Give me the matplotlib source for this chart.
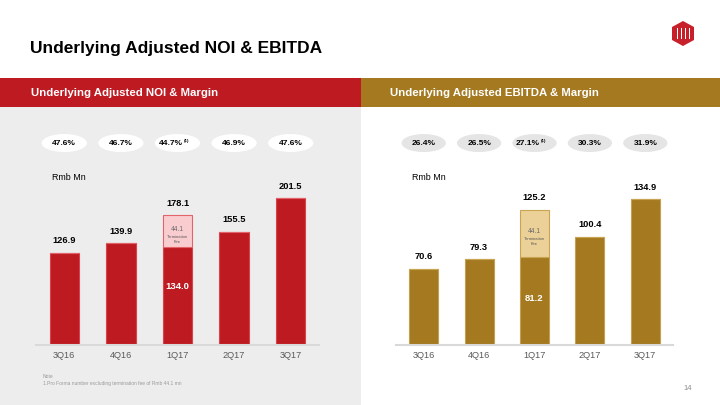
import matplotlib.pyplot as plt
from matplotlib.patches import Rectangle, Ellipse, Polygon

plt.rcParams['font.family'] = ['Liberation Sans', 'DejaVu Sans']

quarters = ["3Q16", "4Q16", "1Q17", "2Q17", "3Q17"]

noi_base = [126.9, 139.9, 134.0, 155.5, 201.5]
noi_fee = [0, 0, 44.1, 0, 0]
noi_totals = ["126.9", "139.9", "178.1", "155.5", "201.5"]
noi_margin = ["47.6%", "46.7%", "44.7%", "46.9%", "47.6%"]

ebitda_base = [70.6, 79.3, 81.2, 100.4, 134.9]
ebitda_fee = [0, 0, 44.1, 0, 0]
ebitda_totals = ["70.6", "79.3", "125.2", "100.4", "134.9"]
ebitda_margin = ["26.4%", "26.5%", "27.1%", "30.3%", "31.9%"]

footnote_idx = 2  # the quarter with the termination fee

RED = "#BE1A22"
GOLD = "#A47920"

W, H = 720, 405
fig = plt.figure(figsize=(7.2, 4.05), dpi=100)
fig.patch.set_facecolor("white")

# background canvas in pixel units
bg = fig.add_axes([0, 0, 1, 1])
bg.set_xlim(0, W)
bg.set_ylim(H, 0)
bg.axis("off")
bg.add_patch(Rectangle((0, 106.5), 361, 300, color="#EDEDED", lw=0))
bg.add_patch(Rectangle((0, 77.5), 361, 29, color=RED, lw=0))
bg.add_patch(Rectangle((361, 77.5), 359, 29, color=GOLD, lw=0))

bg.text(30, 48, "Underlying Adjusted NOI & EBITDA", fontsize=12.5, fontweight="bold",
        color="black", va="center", ha="left")
bg.text(31, 93, "Underlying Adjusted NOI & Margin", fontsize=8.2, fontweight="bold",
        color="white", va="center", ha="left")
bg.text(390, 93, "Underlying Adjusted EBITDA & Margin", fontsize=8.2, fontweight="bold",
        color="white", va="center", ha="left")

# logo (rough)
bg.add_patch(Polygon([(683, 21), (694, 27), (694, 40), (683, 46), (672, 40), (672, 27)],
                     closed=True, color="#C8202A", lw=0))
for xs in (676.5, 680.5, 684.5, 688.5):
    bg.add_patch(Rectangle((xs, 28), 1.3, 11, color="white", lw=0))

bg.text(43, 376, "Note", fontsize=3.6, color="#9A9A9A", va="center")
bg.text(43, 383, "1.Pro Forma number excluding termination fee of Rmb 44.1 mn",
        fontsize=3.5, color="#9A9A9A", va="center")
bg.text(687.5, 389, "14", fontsize=5.5, color="#8C8C8C", va="center", ha="center")


def px_axes(x0, x1, ytop, ybot):
    return fig.add_axes([x0 / W, (H - ybot) / H, (x1 - x0) / W, (ybot - ytop) / H])


def draw_panel(ax, base, fee, totals, margins, dark, light, edge, light_edge,
               ell_color, ymax, inner_gap):
    x = list(range(len(quarters)))
    ax.set_xlim(-0.5, 4.5)
    ax.set_ylim(0, ymax)
    ax.patch.set_alpha(0)
    for s in ("top", "right", "left"):
        ax.spines[s].set_visible(False)
    ax.spines["bottom"].set_color("#D9D9D9")
    ax.spines["bottom"].set_linewidth(1.5)
    ax.set_yticks([])
    ax.set_xticks(x)
    ax.set_xticklabels(quarters, fontsize=6.6, color="#595959")
    ax.tick_params(axis="x", length=0, pad=4)

    ax.bar(x, base, width=0.52, color=dark, edgecolor=edge, linewidth=0.8)
    ax.bar(x, fee, bottom=base, width=0.52, color=light, edgecolor=light_edge,
           linewidth=0.8)

    for i in x:
        top = base[i] + fee[i]
        ax.annotate(totals[i], (i, top), xytext=(0, 8.6), textcoords="offset points",
                    ha="center", va="center", fontsize=6.7, fontweight="bold",
                    color="black")
        if fee[i] > 0:
            mid = base[i] + fee[i] / 2
            ax.annotate(f"{fee[i]:.1f}", (i, mid), xytext=(0, 1.6),
                        textcoords="offset points", ha="center", va="center",
                        fontsize=4.8, color="#6A6A6A")
            ax.annotate("Termination", (i, mid), xytext=(0, -3.9),
                        textcoords="offset points", ha="center", va="center",
                        fontsize=3.0, color="#555555")
            ax.annotate("Fee", (i, mid), xytext=(0, -7.5),
                        textcoords="offset points", ha="center", va="center",
                        fontsize=3.0, color="#555555")
            ax.annotate(f"{base[i]:.1f}", (i, base[i]), xytext=(0, -inner_gap),
                        textcoords="offset points", ha="center", va="center",
                        fontsize=6.8, fontweight="bold", color="white")

    tr = ax.get_xaxis_transform()
    for i in x:
        ax.add_patch(Ellipse((i, 1.122), 0.8, 0.1, transform=tr, color=ell_color,
                             lw=0, clip_on=False))
        if i == footnote_idx:
            ax.text(i + 0.1, 1.122, margins[i], transform=tr, fontsize=6.0,
                    fontweight="bold", ha="right", va="center", color="black")
            ax.text(i + 0.11, 1.135, "(1)", transform=tr, fontsize=3.2,
                    fontweight="bold", ha="left", va="center", color="black")
        else:
            ax.text(i, 1.122, margins[i], transform=tr, fontsize=6.0,
                    fontweight="bold", ha="center", va="center", color="black")
    ax.text(0.056, 0.932, "Rmb Mn", transform=ax.transAxes, fontsize=6.4,
            color="black", ha="left", va="center")


ax1 = px_axes(36, 319, 165, 345)
draw_panel(ax1, noi_base, noi_fee, noi_totals, noi_margin, RED, "#F9CDD0", "#D8434B",
           "#E2636A", "white", 180 / 0.728, 28)

ax2 = px_axes(396, 673, 165, 345)
draw_panel(ax2, ebitda_base, ebitda_fee, ebitda_totals, ebitda_margin, GOLD, "#EBD197",
           "#C4A052", "#C9A453", "#E5E5E5", 180 / 1.08, 30)

fig.savefig("out.png", dpi=100, facecolor=fig.get_facecolor())
